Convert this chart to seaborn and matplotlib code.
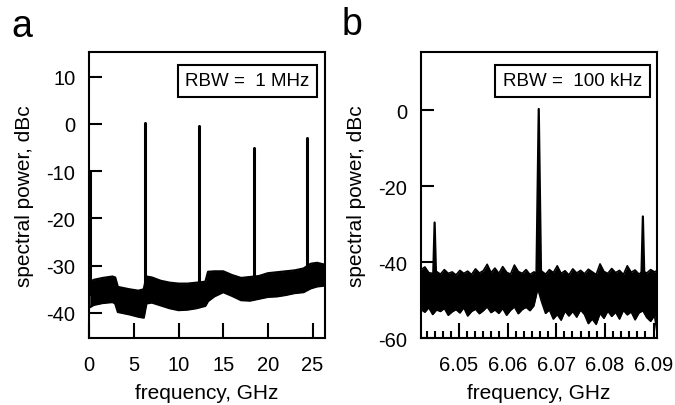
import numpy as np
import pandas as pd
import matplotlib
matplotlib.use("Agg")
import matplotlib.pyplot as plt
import seaborn as sns
from matplotlib.ticker import MultipleLocator, FormatStrFormatter

# ---------------- data ----------------
# Panel a: noise-floor envelope of the broadband spectrum (GHz, dBc)
freq_a = [0.05, 0.5, 1.5, 2.6, 2.9, 3.2, 4.5, 5.5, 6.1, 6.4, 7.0, 8.0, 9.0, 10.0,
          11.0, 12.0, 13.0, 13.3, 14.0, 15.0, 16.0, 17.0, 18.0, 19.0, 20.0, 21.0,
          22.0, 23.0, 24.0, 24.8, 25.5, 26.4]
upper_a = [-33.5, -33.0, -32.6, -32.3, -32.5, -34.5, -35.0, -35.3, -35.0, -32.3,
           -32.5, -33.2, -33.6, -33.8, -33.8, -33.6, -33.4, -31.3, -31.2, -31.2,
           -32.0, -32.6, -32.4, -32.2, -31.6, -31.4, -31.2, -31.0, -30.6, -29.6,
           -29.4, -29.8]
lower_a = [-38.8, -38.3, -37.9, -37.7, -38.0, -39.8, -40.3, -40.8, -41.0, -38.0,
           -37.8, -38.4, -39.0, -39.4, -39.3, -39.0, -38.5, -37.5, -36.5, -35.6,
           -36.4, -37.3, -37.4, -37.0, -36.6, -36.5, -36.2, -35.8, -35.6, -34.8,
           -34.4, -34.2]
# Panel a: harmonic lines
peak_freq_a = [0.05, 6.25, 12.3, 18.4, 24.4]
peak_top_a = [-10.0, 0.2, -0.4, -5.1, -3.0]
peak_base_a = [-36.0, -38.0, -36.5, -35.0, -33.0]

# Panel b: noise-floor envelope of the narrow-span spectrum (GHz, dBc)
freq_b = [6.0422, 6.0430, 6.0438, 6.0446, 6.0454, 6.0462, 6.0470, 6.0478, 6.0486, 6.0494,
          6.0502, 6.0510, 6.0518, 6.0526, 6.0534, 6.0542, 6.0550, 6.0558, 6.0566, 6.0574,
          6.0582, 6.0590, 6.0598, 6.0606, 6.0614, 6.0622, 6.0630, 6.0638, 6.0646, 6.0654,
          6.0662, 6.0670, 6.0678, 6.0686, 6.0694, 6.0702, 6.0710, 6.0718, 6.0726, 6.0734,
          6.0742, 6.0750, 6.0758, 6.0766, 6.0774, 6.0782, 6.0790, 6.0798, 6.0806, 6.0814,
          6.0822, 6.0830, 6.0838, 6.0846, 6.0854, 6.0862, 6.0870, 6.0878, 6.0886, 6.0894,
          6.0902, 6.0907]
upper_b = [-42.0, -41.3, -42.8, -43.0, -42.5, -43.2, -42.0, -43.0, -42.6, -43.4,
           -42.2, -43.0, -42.4, -43.3, -41.8, -42.9, -42.3, -40.6, -42.8, -41.6,
           -43.0, -41.2, -42.7, -43.2, -40.8, -42.5, -43.0, -42.0, -43.3, -42.6,
           -43.0, -42.4, -43.2, -42.0, -42.8, -41.0, -43.0, -42.3, -43.4, -41.8,
           -42.9, -42.2, -43.1, -41.9, -42.6, -43.3, -40.5, -42.5, -43.0, -41.7,
           -42.8, -42.2, -43.3, -41.0, -42.7, -42.1, -43.2, -42.4, -42.9, -42.0,
           -42.6, -42.3]
lower_b = [-52.5, -53.2, -52.0, -53.8, -52.6, -53.0, -52.2, -54.0, -53.1, -52.5,
           -53.4, -52.0, -54.2, -53.0, -52.4, -53.6, -52.8, -51.8, -53.3, -52.6,
           -53.5, -52.2, -54.0, -52.7, -51.8, -53.6, -52.5, -51.9, -52.8, -51.5,
           -47.0, -50.5, -53.5, -52.6, -55.0, -53.8, -55.3, -52.9, -54.2, -53.0,
           -54.5, -52.6, -53.8, -56.2, -55.0, -56.4, -53.5, -54.8, -52.9, -54.3,
           -53.2, -55.0, -52.7, -53.9, -53.1, -55.2, -53.4, -52.8, -54.6, -55.6,
           -54.0, -58.5]
# Panel b: carrier and sidebands (centre, top level, half base width)
peak_freq_b = [6.0450, 6.0664, 6.0878]
peak_top_b = [-29.6, 0.3, -28.0]
peak_base_b = [-44.0, -46.0, -44.0]
peak_halfwidth_b = [0.0003, 0.0005, 0.0003]

ticks_a_x = [0, 5, 10, 15, 20, 25]
ticks_a_y = [10, 0, -10, -20, -30, -40]
ticks_b_x = [6.05, 6.06, 6.07, 6.08, 6.09]
ticks_b_y = [0, -20, -40, -60]

# ---------------- style ----------------
sns.set_style("ticks")
plt.rcParams["font.family"] = ["Liberation Sans", "DejaVu Sans"]
plt.rcParams["axes.unicode_minus"] = False
for k in ("text.color", "axes.labelcolor", "xtick.color", "ytick.color", "axes.edgecolor"):
    plt.rcParams[k] = "black"

fig = plt.figure(figsize=(6.75, 4.06), dpi=100)
ax_a = fig.add_axes([0.1323, 0.165, 0.3492, 0.7045])
ax_b = fig.add_axes([0.6237, 0.165, 0.3496, 0.7045])

LW = 1.6
LABEL_FS = 15
TICK_FS = 14.5

# ---------------- panel a ----------------
ax_a.fill_between(freq_a, lower_a, upper_a, color="black", lw=0)
band_a = pd.DataFrame({"f": freq_a * 2, "p": upper_a + lower_a,
                       "edge": ["u"] * len(freq_a) + ["l"] * len(freq_a)})
sns.lineplot(data=band_a, x="f", y="p", units="edge", estimator=None,
             color="black", lw=LW, ax=ax_a, legend=False)
pk_a = pd.DataFrame({"f": [v for v in peak_freq_a for _ in (0, 1)],
                     "p": [v for pair in zip(peak_base_a, peak_top_a) for v in pair],
                     "id": [i for i in range(len(peak_freq_a)) for _ in (0, 1)]})
sns.lineplot(data=pk_a, x="f", y="p", units="id", estimator=None, sort=False,
             color="black", lw=2.2, ax=ax_a, legend=False)

ax_a.set_xlim(0, 26.4)
ax_a.set_ylim(-45.3, 15.2)
ax_a.set_xticks(ticks_a_x)
ax_a.set_yticks(ticks_a_y)
ax_a.set_xticklabels([str(t) for t in ticks_a_x])
ax_a.set_yticklabels([str(t) for t in ticks_a_y])
ax_a.set_xlabel("frequency, GHz", fontsize=LABEL_FS, labelpad=7)
ax_a.set_ylabel("spectral power, dBc", fontsize=LABEL_FS, labelpad=9)
ax_a.text(0.671, 0.900, "RBW =  1 MHz", transform=ax_a.transAxes, ha="center",
          va="center", fontsize=13.5,
          bbox=dict(boxstyle="square,pad=0.4", fc="white", ec="black", lw=1.5))

# ---------------- panel b ----------------
ax_b.fill_between(freq_b, lower_b, upper_b, color="black", lw=0)
band_b = pd.DataFrame({"f": freq_b * 2, "p": upper_b + lower_b,
                       "edge": ["u"] * len(freq_b) + ["l"] * len(freq_b)})
sns.lineplot(data=band_b, x="f", y="p", units="edge", estimator=None,
             color="black", lw=1.2, ax=ax_b, legend=False)
rows = []
for i, (c, t, b, h) in enumerate(zip(peak_freq_b, peak_top_b, peak_base_b, peak_halfwidth_b)):
    rows += [(c - h, b, i), (c, t, i), (c + h, b, i)]
    ax_b.fill([c - h, c, c + h], [b, t, b], color="black", lw=0)
pk_b = pd.DataFrame(rows, columns=["f", "p", "id"])
sns.lineplot(data=pk_b, x="f", y="p", units="id", estimator=None, sort=False,
             color="black", lw=LW, ax=ax_b, legend=False)

ax_b.set_xlim(6.0422, 6.0907)
ax_b.set_ylim(-60, 15.3)
ax_b.set_xticks(ticks_b_x)
ax_b.xaxis.set_minor_locator(MultipleLocator(0.01 / 6))
ax_b.xaxis.set_major_formatter(FormatStrFormatter("%.2f"))
ax_b.set_yticks(ticks_b_y)
ax_b.set_yticklabels([str(t) for t in ticks_b_y])
ax_b.set_xlabel("frequency, GHz", fontsize=LABEL_FS, labelpad=7)
ax_b.set_ylabel("spectral power, dBc", fontsize=LABEL_FS, labelpad=9)
ax_b.text(0.642, 0.900, "RBW =  100 kHz", transform=ax_b.transAxes, ha="center",
          va="center", fontsize=13.5,
          bbox=dict(boxstyle="square,pad=0.4", fc="white", ec="black", lw=1.5))

for ax in (ax_a, ax_b):
    for s in ax.spines.values():
        s.set_visible(True)
        s.set_linewidth(1.5)
        s.set_color("black")
    ax.tick_params(axis="both", which="major", direction="in", width=1.5,
                   labelsize=TICK_FS, color="black", labelcolor="black",
                   top=False, right=False)
    ax.tick_params(axis="y", which="major", length=9.5, pad=10)
    ax.tick_params(axis="x", which="major", length=11, pad=12)
    ax.tick_params(axis="x", which="minor", direction="in", length=5, width=1.5,
                   top=False, bottom=True, color="black")
    ax.set_facecolor("white")

fig.text(0.0326, 0.933, "a", fontsize=27, ha="center", va="center")
fig.text(0.521, 0.938, "b", fontsize=27, ha="center", va="center")

fig.savefig("out.png", dpi=100)
